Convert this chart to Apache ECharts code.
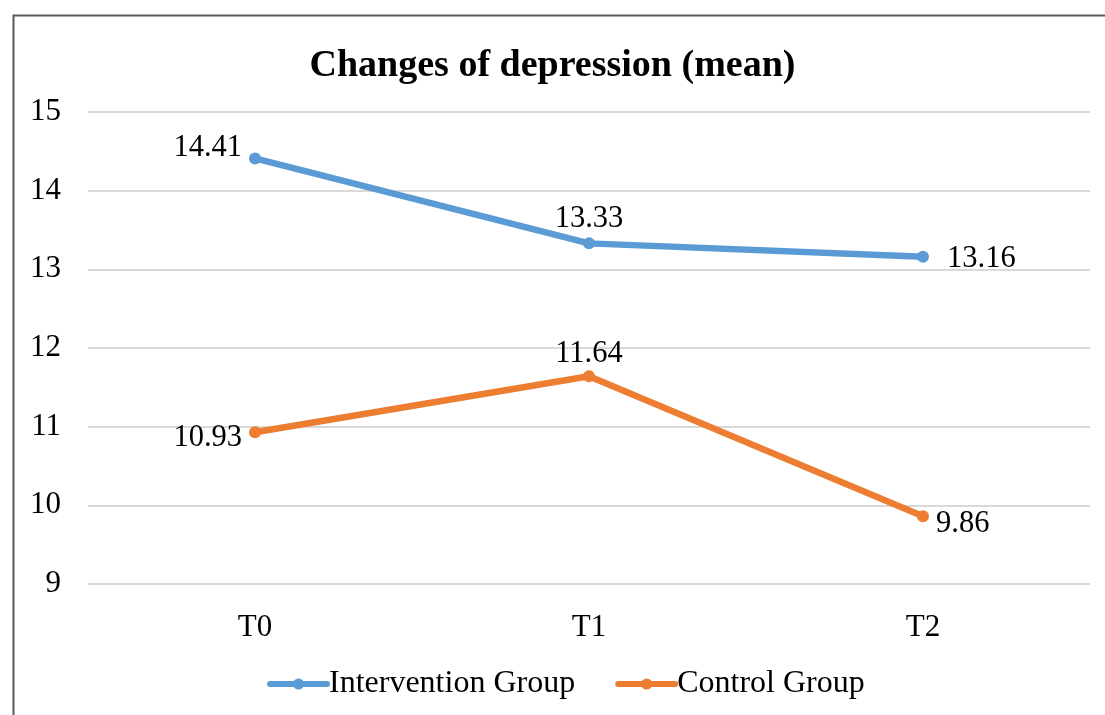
<!DOCTYPE html>
<html>
<head>
<meta charset="utf-8">
<script src="https://cdn.jsdelivr.net/npm/echarts@6/dist/echarts.min.js"></script>
<style>
  html, body { margin: 0; padding: 0; background: #fff; }
  #chart { width: 1105px; height: 715px; }
</style>
</head>
<body>
<div id="chart"></div>
<script>
// Measurement times and mean depression scores per group
const timePoints = ['T0', 'T1', 'T2'];
const interventionMeans = [14.41, 13.33, 13.16];
const controlMeans = [10.93, 11.64, 9.86];
const yTicks = [9, 10, 11, 12, 13, 14, 15];

// Label placement per point: [position, offset]
const interventionLabelPos = [['left', [-2, -10]], ['top', [0, 2]], ['right', [13, 2]]];
const controlLabelPos = [['left', [-2, 6]], ['top', [0, 4]], ['right', [2, 8]]];

const FONT = '"Liberation Serif", "Times New Roman", serif';
const BLUE = '#5B9BD5';
const ORANGE = '#ED7D31';

function buildData(values, placements) {
  return values.map((v, i) => ({
    value: v,
    label: {
      position: placements[i][0],
      offset: placements[i][1]
    }
  }));
}

const chart = echarts.init(document.getElementById('chart'), null, { renderer: 'canvas' });

const labelStyle = {
  show: true,
  fontFamily: FONT,
  fontSize: 30.5,
  color: '#000',
  formatter: p => p.value.toFixed(2)
};

chart.setOption({
  backgroundColor: '#fff',
  animation: false,
  title: {
    text: 'Changes of depression (mean)',
    left: 'center',
    top: 42,
    textStyle: {
      fontFamily: FONT,
      fontWeight: 'bold',
      fontSize: 38,
      color: '#000'
    }
  },
  graphic: [{
    type: 'rect',
    left: 11,
    top: 13,
    shape: { width: 1200, height: 800 },
    style: { fill: 'none', stroke: '#595959', lineWidth: 2 },
    silent: true
  }],
  grid: {
    left: 88,
    right: 15,
    top: 112,
    bottom: 131,
    containLabel: false
  },
  legend: {
    bottom: 10,
    left: 262,
    itemWidth: 57,
    itemHeight: 14,
    itemGap: 40,
    lineStyle: { width: 6, cap: 'round' },
    textStyle: {
      fontFamily: FONT,
      fontSize: 32,
      color: '#000',
      padding: [0, 0, 0, -3]
    },
    data: ['Intervention Group', 'Control Group']
  },
  xAxis: {
    type: 'category',
    data: timePoints,
    boundaryGap: true,
    axisLine: { show: false },
    axisTick: { show: false },
    axisLabel: {
      margin: 28,
      fontFamily: FONT,
      fontSize: 31,
      color: '#000'
    }
  },
  yAxis: {
    type: 'value',
    min: yTicks[0],
    max: yTicks[yTicks.length - 1],
    interval: 1,
    axisLine: { show: false },
    axisTick: { show: false },
    splitLine: { lineStyle: { color: '#d9d9d9', width: 2 } },
    axisLabel: {
      margin: 27,
      fontFamily: FONT,
      fontSize: 31,
      color: '#000'
    }
  },
  series: [
    {
      name: 'Intervention Group',
      type: 'line',
      data: buildData(interventionMeans, interventionLabelPos),
      symbol: 'circle',
      symbolSize: 12,
      lineStyle: { width: 6.5, color: BLUE, cap: 'round' },
      itemStyle: { color: BLUE },
      label: labelStyle
    },
    {
      name: 'Control Group',
      type: 'line',
      data: buildData(controlMeans, controlLabelPos),
      symbol: 'circle',
      symbolSize: 12,
      lineStyle: { width: 6.5, color: ORANGE, cap: 'round' },
      itemStyle: { color: ORANGE },
      label: labelStyle
    }
  ]
});
</script>
</body>
</html>
